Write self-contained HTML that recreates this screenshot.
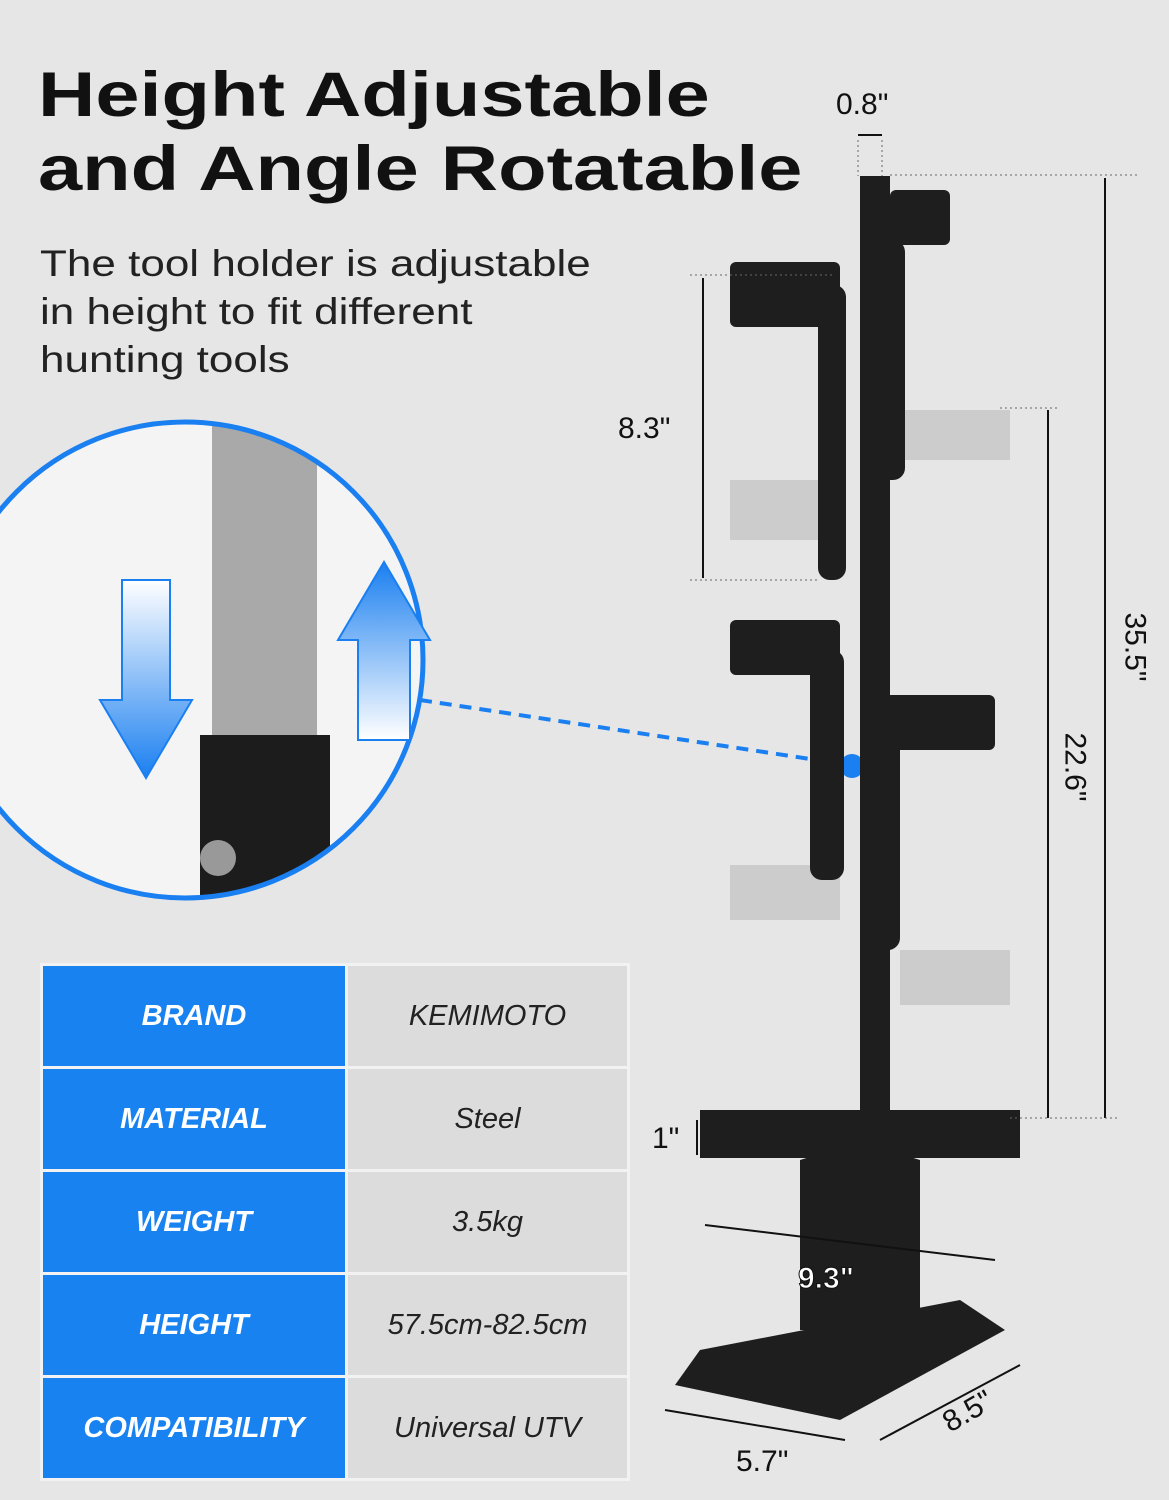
<!DOCTYPE html>
<html><head><meta charset="utf-8"><style>
body{margin:0;width:1169px;height:1500px;background:#e6e6e6;position:relative;overflow:hidden;font-family:"Liberation Sans",sans-serif}
.t{position:absolute;left:38px;top:58px;font-size:63px;font-weight:900;line-height:74px;color:#111;transform:scaleX(1.26);transform-origin:0 0;white-space:nowrap}
.s{position:absolute;left:40px;top:240px;font-size:37px;line-height:48px;color:#222;transform:scaleX(1.19);transform-origin:0 0;white-space:nowrap}
table{position:absolute;left:40px;top:963px;border-collapse:collapse;width:590px}
td{height:98px;border:3px solid #f2f2f2;text-align:center;font-size:29px;font-style:italic}
td.k{background:#1882f0;color:#fff;font-weight:900;width:300px}
td.v{background:#dcdcdc;color:#222}
.d{position:absolute;font-size:30px;color:#111}
</style></head><body>
<div class="t">Height Adjustable<br>and Angle Rotatable</div>
<div class="s">The tool holder is adjustable<br>in height to fit different<br>hunting tools</div>
<svg width="1169" height="1500" style="position:absolute;left:0;top:0">
<defs><clipPath id="c"><circle cx="185" cy="660" r="238"/></clipPath>
<linearGradient id="ga" x1="0" y1="0" x2="0" y2="1"><stop offset="0" stop-color="#fff"/><stop offset="1" stop-color="#1a7ff0"/></linearGradient>
<linearGradient id="gb" x1="0" y1="1" x2="0" y2="0"><stop offset="0" stop-color="#fff"/><stop offset="1" stop-color="#1a7ff0"/></linearGradient></defs>
<circle cx="185" cy="660" r="238" fill="#f4f4f4"/>
<g clip-path="url(#c)">
<rect x="212" y="420" width="105" height="320" fill="#a9a9a9"/>
<rect x="200" y="735" width="130" height="200" fill="#1c1c1c"/>
<circle cx="218" cy="858" r="18" fill="#999"/>
</g>
<circle cx="185" cy="660" r="238" fill="none" stroke="#1a7ff0" stroke-width="5"/>
<path d="M122 580h48v120h22l-46 78l-46-78h22z" fill="url(#ga)" stroke="#1a7ff0" stroke-width="2"/>
<path d="M358 740v-100h-20l46-78l46 78h-20v100z" fill="url(#gb)" stroke="#1a7ff0" stroke-width="2"/>
<line x1="420" y1="700" x2="850" y2="765" stroke="#1a7ff0" stroke-width="4" stroke-dasharray="12 8"/>
<circle cx="852" cy="766" r="12" fill="#1a7ff0"/>
<g fill="#bbb" opacity="0.6">
<rect x="730" y="480" width="110" height="60"/><rect x="900" y="410" width="110" height="50"/>
<rect x="730" y="865" width="110" height="55"/><rect x="900" y="950" width="110" height="55"/>
</g>
<g fill="#1e1e1e">
<rect x="860" y="176" width="30" height="960"/>
<rect x="890" y="190" width="60" height="55" rx="6"/>
<rect x="730" y="262" width="110" height="65" rx="6"/>
<rect x="818" y="285" width="28" height="295" rx="12"/>
<rect x="875" y="240" width="30" height="240" rx="12"/>
<rect x="730" y="620" width="110" height="55" rx="6"/>
<rect x="810" y="650" width="34" height="230" rx="12"/>
<rect x="885" y="695" width="110" height="55" rx="6"/>
<rect x="870" y="710" width="30" height="240" rx="12"/>
<rect x="700" y="1110" width="320" height="48"/>
<path d="M800 1160 Q 860 1140 920 1160 L920 1330 L800 1330z"/>
<path d="M700 1350 L960 1300 L1005 1330 L840 1420 L675 1385z"/>
</g>
<g stroke="#111" stroke-width="2" fill="none">
<line x1="703" y1="278" x2="703" y2="578"/><line x1="1048" y1="410" x2="1048" y2="1118"/>
<line x1="1105" y1="178" x2="1105" y2="1118"/><line x1="697" y1="1120" x2="697" y2="1155"/>
<line x1="705" y1="1225" x2="995" y2="1260"/><line x1="665" y1="1410" x2="845" y2="1440"/>
<line x1="880" y1="1440" x2="1020" y2="1365"/>
<line x1="858" y1="135" x2="882" y2="135"/>
</g>
<g stroke="#666" stroke-width="1" stroke-dasharray="2 3">
<line x1="890" y1="175" x2="1140" y2="175"/><line x1="690" y1="275" x2="835" y2="275"/>
<line x1="690" y1="580" x2="820" y2="580"/><line x1="1000" y1="408" x2="1060" y2="408"/>
<line x1="1010" y1="1118" x2="1120" y2="1118"/><line x1="858" y1="140" x2="858" y2="176"/><line x1="882" y1="140" x2="882" y2="176"/>
</g>
</svg>
<div class="d" style="left:836px;top:88px">0.8"</div>
<div class="d" style="left:618px;top:412px">8.3"</div>
<div class="d" style="left:1100px;top:630px;transform:rotate(90deg)">35.5"</div>
<div class="d" style="left:1040px;top:750px;transform:rotate(90deg)">22.6"</div>
<div class="d" style="left:652px;top:1122px">1"</div>
<div class="d" style="left:798px;top:1262px;font-weight:bold;color:#fff;-webkit-text-stroke:1px #111">9.3"</div>
<div class="d" style="left:736px;top:1445px">5.7"</div>
<div class="d" style="left:942px;top:1395px;transform:rotate(-30deg)">8.5"</div>
<table>
<tr><td class="k">BRAND</td><td class="v">KEMIMOTO</td></tr>
<tr><td class="k">MATERIAL</td><td class="v">Steel</td></tr>
<tr><td class="k">WEIGHT</td><td class="v">3.5kg</td></tr>
<tr><td class="k">HEIGHT</td><td class="v">57.5cm-82.5cm</td></tr>
<tr><td class="k">COMPATIBILITY</td><td class="v">Universal UTV</td></tr>
</table>
</body></html>
